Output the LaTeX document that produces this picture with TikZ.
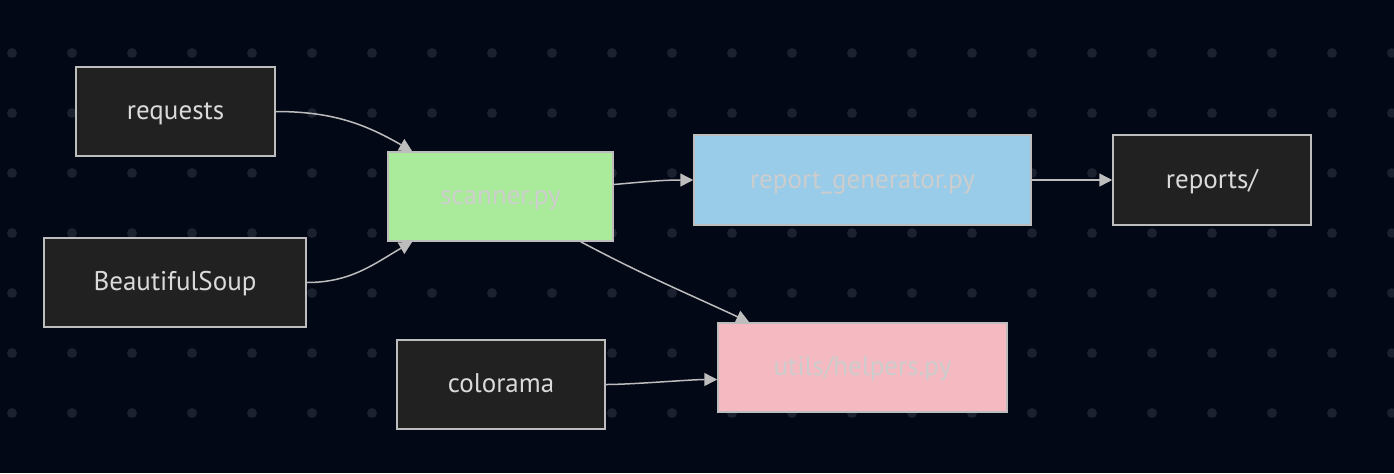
\documentclass[tikz,border=0pt]{standalone}
\usepackage{fontspec}
\setmainfont{PT Sans}
\usetikzlibrary{arrows.meta}

\definecolor{bgcol}{HTML}{030817}
\definecolor{dotcol}{HTML}{1C2130}
\definecolor{darkfill}{HTML}{212121}
\definecolor{edgecol}{HTML}{BDBDBD}
\definecolor{txtcol}{HTML}{DADADA}
\definecolor{scanfill}{HTML}{A9EB9A}
\definecolor{repfill}{HTML}{98CCE8}
\definecolor{utilfill}{HTML}{F4B9C1}

\begin{document}
\begin{tikzpicture}[x=0.5pt, y=-0.5pt, ->, >={Triangle[length=6.5pt,width=6.5pt]},
                    line width=0.75pt, edgecol]
    \tikzstyle{box}=[draw=edgecol, rectangle, inner sep=0pt, minimum height=44.5pt,
                     text height=8pt, text depth=0pt,
                     text=txtcol, font=\fontsize{13.5}{16}\selectfont]
    \tikzstyle{pkg}=[box, fill=darkfill]
    \tikzstyle{mod}=[box, text=txtcol!85!gray]

    % background and dot grid
    \fill[bgcol] (0,0) rectangle (1394,473);
    \useasboundingbox (0,0) rectangle (1394,473);
    \foreach \gx in {12,72,...,1392}
        \foreach \gy in {53,113,...,413}
            \fill[dotcol] (\gx,\gy) circle (2.5pt);

    \node[pkg, minimum width=99.5pt]          (requests) at (175.5,111.5) {requests};
    \node[pkg, minimum width=131pt]           (soup)     at (175,282.5)   {BeautifulSoup};
    \node[mod, fill=scanfill, minimum width=112.5pt] (scanner) at (500.5,196.5) {scanner.py};
    \node[mod, fill=repfill, minimum width=168.5pt, minimum height=45pt]
                                              (report)   at (862.5,180)   {report\_generator.py};
    \node[pkg, minimum width=99pt, minimum height=45pt]
                                              (reports)  at (1212,180)    {reports/};
    \node[pkg, minimum width=104pt]           (colorama) at (501,384.5)   {colorama};
    \node[mod, fill=utilfill, minimum width=144.5pt] (utils) at (862.5,367.5) {utils/helpers.py};

    \draw (requests.east) to[out=0, in=150] ([xshift=12.5pt]scanner.north west);
    \draw (soup.east) to[out=0, in=210] ([xshift=12.5pt]scanner.south west);
    \draw ([yshift=6pt]scanner.east) to[out=5, in=180] (report.west);
    \draw (report.east) -- (reports.west);
    \draw ([xshift=-16.5pt]scanner.south east) to[out=-28, in=155] ([xshift=16pt]utils.north west);
    \draw (colorama.east) to[out=0, in=180, looseness=0.6] ([yshift=-6pt]utils.west);
\end{tikzpicture}
\end{document}
